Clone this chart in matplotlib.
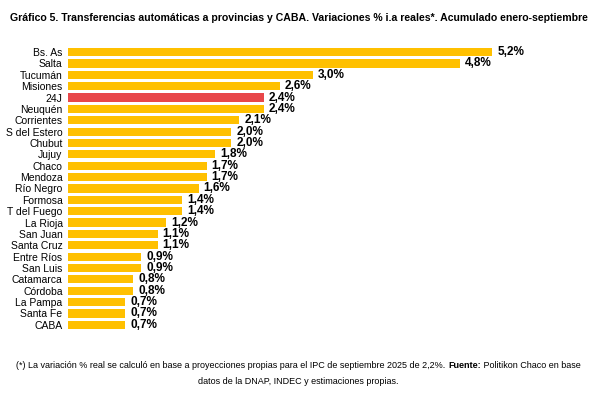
import matplotlib.pyplot as plt

plt.rcParams['font.family'] = ['Liberation Sans Narrow', 'Liberation Sans', 'DejaVu Sans']

provincias = ['Bs. As', 'Salta', 'Tucumán', 'Misiones', '24J', 'Neuquén', 'Corrientes',
              'S del Estero', 'Chubut', 'Jujuy', 'Chaco', 'Mendoza', 'Río Negro', 'Formosa',
              'T del Fuego', 'La Rioja', 'San Juan', 'Santa Cruz', 'Entre Ríos', 'San Luis',
              'Catamarca', 'Córdoba', 'La Pampa', 'Santa Fe', 'CABA']
variacion = [5.2, 4.8, 3.0, 2.6, 2.4, 2.4, 2.1, 2.0, 2.0, 1.8, 1.7, 1.7, 1.6, 1.4,
             1.4, 1.2, 1.1, 1.1, 0.9, 0.9, 0.8, 0.8, 0.7, 0.7, 0.7]

colores = ['#E8474A' if p == '24J' else '#FFC000' for p in provincias]

fig = plt.figure(figsize=(5.97, 4.03), dpi=100)
ax = fig.add_axes([0.114, 0.176, 0.82, 0.705])
ypos = range(len(provincias))
ax.barh(ypos, variacion, height=0.72, color=colores)
ax.set_ylim(len(provincias) - 0.36, -0.36)
ax.set_xlim(0, 6)
ax.set_yticks(list(ypos))
ax.set_yticklabels(provincias, fontsize=7.5)
ax.set_xticks([])
ax.tick_params(axis='y', length=0, pad=4)
for s in ax.spines.values():
    s.set_visible(False)

for y, v in zip(ypos, variacion):
    ax.text(v + 0.06, y, f'{v:.1f}%'.replace('.', ','), va='center', ha='left',
            fontsize=8.5, fontweight='bold')

fig.text(0.017, 0.955, 'Gráfico 5. Transferencias automáticas a provincias y CABA. '
         'Variaciones % i.a reales*. Acumulado enero-septiembre',
         fontsize=7.6, fontweight='bold', ha='left', va='center')

# footnote line 1 built from three pieces so "Fuente:" can be bold
partes = [('(*) La variación % real se calculó en base a proyecciones propias para '
           'el IPC de septiembre 2025 de 2,2%. ', 'normal'),
          ('Fuente:', 'bold'),
          (' Politikon Chaco en base', 'normal')]
fig.canvas.draw()
r = fig.canvas.get_renderer()
textos = [fig.text(0, 0.092, t, fontsize=6.5, fontweight=w, va='center') for t, w in partes]
anchos = [t.get_window_extent(r).width / fig.bbox.width for t in textos]
x = 0.5 - sum(anchos) / 2
for t, w in zip(textos, anchos):
    t.set_x(x)
    x += w
fig.text(0.5, 0.053, 'datos de la DNAP, INDEC y estimaciones propias.',
         fontsize=6.5, ha='center', va='center')

fig.savefig('out.png', dpi=100)
